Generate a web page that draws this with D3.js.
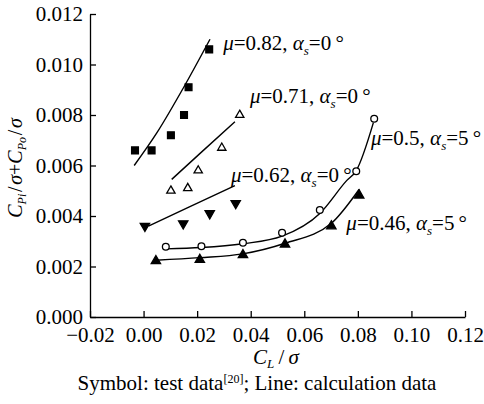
<!DOCTYPE html>
<html>
<head>
<meta charset="utf-8">
<script src="https://cdn.jsdelivr.net/npm/d3@7.9.0/dist/d3.min.js"></script>
<style>
  html, body { margin: 0; padding: 0; background: #fff; }
  svg { display: block; }
  svg text { font-family: 'Liberation Serif', serif; }
</style>
</head>
<body>
<svg id="chart"></svg>
<script>
// axis ticks
const xTicks = [-0.02, 0, 0.02, 0.04, 0.06, 0.08, 0.10, 0.12];
const yTicks = [0, 0.002, 0.004, 0.006, 0.008, 0.010, 0.012];

// test data (symbols)
const mu082TestX = [-0.0032, 0.0030, 0.0102, 0.0151, 0.0168, 0.0245];
const mu082TestY = [0.0066, 0.0066, 0.0072, 0.0080, 0.0091, 0.0106];
const mu071TestX = [0.0102, 0.0165, 0.0204, 0.0292, 0.0359];
const mu071TestY = [0.0050, 0.0051, 0.0058, 0.0067, 0.0080];
const mu062TestX = [0.0005, 0.0148, 0.0247, 0.0344];
const mu062TestY = [0.0036, 0.0037, 0.0041, 0.0045];
const mu05TestX = [0.0083, 0.0216, 0.0371, 0.0517, 0.0658, 0.0794, 0.0861];
const mu05TestY = [0.00278, 0.0028, 0.00294, 0.00334, 0.00424, 0.00577, 0.00785];
const mu046TestX = [0.0046, 0.0210, 0.0371, 0.0528, 0.0701, 0.0805];
const mu046TestY = [0.00222, 0.00227, 0.00246, 0.00288, 0.0036, 0.00482];

// calculation data (lines)
const mu082CalcX = [-0.0035, 0.005, 0.015, 0.0248];
const mu082CalcY = [0.0060, 0.0073, 0.0091, 0.0110];
const mu071CalcX = [0.0105, 0.0211, 0.0341];
const mu071CalcY = [0.00545, 0.00648, 0.00773];
const mu062CalcX = [0.0018, 0.0173, 0.0341];
const mu062CalcY = [0.0036, 0.00437, 0.0052];
const mu05CalcX = [0.0083, 0.0216, 0.0371, 0.0517, 0.0658, 0.0758, 0.0794, 0.0858];
const mu05CalcY = [0.0027, 0.00275, 0.0029, 0.0032, 0.0041, 0.0054, 0.0058, 0.0077];
const mu046CalcX = [0.0046, 0.021, 0.037, 0.0528, 0.0701, 0.0805];
const mu046CalcY = [0.00225, 0.00235, 0.0025, 0.00292, 0.00371, 0.00506];

// series labels (order: 0.82, 0.71, 0.62, 0.5, 0.46)
const seriesMu = ['0.82', '0.71', '0.62', '0.5', '0.46'];
const seriesAlpha = ['0', '0', '0', '5', '5'];
const labelX = [0.0297, 0.0397, 0.0326, 0.0849, 0.0757];
const labelY = [0.01057, 0.00848, 0.00535, 0.00681, 0.00345];

const zip = (xs, ys) => xs.map((x, i) => [x, ys[i]]);

const series = [
    { test: zip(mu082TestX, mu082TestY), calc: zip(mu082CalcX, mu082CalcY), symbol: 'square' },
    { test: zip(mu071TestX, mu071TestY), calc: zip(mu071CalcX, mu071CalcY), symbol: 'triOpen' },
    { test: zip(mu062TestX, mu062TestY), calc: zip(mu062CalcX, mu062CalcY), symbol: 'triDown' },
    { test: zip(mu05TestX, mu05TestY), calc: zip(mu05CalcX, mu05CalcY), symbol: 'circleOpen' },
    { test: zip(mu046TestX, mu046TestY), calc: zip(mu046CalcX, mu046CalcY), symbol: 'triUp' },
];

const width = 484;
const height = 404;
const margin = { top: 14, right: 19, bottom: 87, left: 90 };
const serif = "'Liberation Serif', serif";

const svg = d3.select('#chart')
    .attr('width', width)
    .attr('height', height)
    .attr('viewBox', [0, 0, width, height])
    .attr('font-family', serif);

const xScale = d3.scaleLinear()
    .domain([-0.02, 0.12])
    .range([margin.left, width - margin.right]);

const yScale = d3.scaleLinear()
    .domain([0, 0.012])
    .range([height - margin.bottom, margin.top]);

const fontSize = 21;

// axes, ticks pointing inward
const xAxis = svg.append('g')
    .attr('transform', `translate(0, ${yScale(0)})`)
    .call(d3.axisBottom(xScale)
        .tickValues(xTicks)
        .tickFormat(d3.format('.2f'))
        .tickSizeInner(-6)
        .tickSizeOuter(0)
        .tickPadding(10));

const yAxis = svg.append('g')
    .attr('transform', `translate(${xScale(-0.02)}, 0)`)
    .call(d3.axisLeft(yScale)
        .tickValues(yTicks)
        .tickFormat(d3.format('.3f'))
        .tickSizeInner(-6)
        .tickSizeOuter(0)
        .tickPadding(7));

[xAxis, yAxis].forEach((ax) => {
    ax.attr('font-family', serif).attr('font-size', fontSize);
    ax.selectAll('path, line').attr('stroke', '#000').attr('stroke-width', 1.3);
    ax.selectAll('text')
        .attr('fill', '#000')
        .attr('font-family', serif)
        .attr('font-size', fontSize);
});

// calculation lines
const line = d3.line()
    .x((d) => xScale(d[0]))
    .y((d) => yScale(d[1]))
    .curve(d3.curveMonotoneX);

svg.append('g')
    .selectAll('path')
    .data(series)
    .join('path')
    .attr('d', (d) => line(d.calc))
    .attr('fill', 'none')
    .attr('stroke', '#000')
    .attr('stroke-width', 1.4);

// test symbols
const symbolShape = {
    square: { type: d3.symbolSquare, size: 46, fill: '#000', rotate: 0 },
    triOpen: { type: d3.symbolTriangle, size: 30, fill: '#fff', rotate: 0 },
    triDown: { type: d3.symbolTriangle, size: 38, fill: '#000', rotate: 180 },
    circleOpen: { type: d3.symbolCircle, size: 36, fill: '#fff', rotate: 0 },
    triUp: { type: d3.symbolTriangle, size: 38, fill: '#000', rotate: 0 },
};

series.forEach((s) => {
    const shape = symbolShape[s.symbol];
    svg.append('g')
        .selectAll('path')
        .data(s.test)
        .join('path')
        .attr('d', d3.symbol().type(shape.type).size(shape.size))
        .attr('transform', (d) => `translate(${xScale(d[0])}, ${yScale(d[1])}) rotate(${shape.rotate})`)
        .attr('fill', shape.fill)
        .attr('stroke', '#000')
        .attr('stroke-width', 1.3);
});

// rich text helper: parts = [text, italic?, 'sub'|'sup'|null]
function richText(sel, parts, subSize, subDrop = 5) {
    let shift = 0;
    parts.forEach(([t, italic, pos]) => {
        const target = pos === 'sub' ? subDrop : pos === 'sup' ? -7 : 0;
        sel.append('tspan')
            .attr('dy', target - shift)
            .attr('font-style', italic ? 'italic' : 'normal')
            .attr('font-size', pos ? subSize : null)
            .text(t);
        shift = target;
    });
}

// series labels
seriesMu.forEach((mu, i) => {
    const t = svg.append('text')
        .attr('x', xScale(labelX[i]))
        .attr('y', yScale(labelY[i]))
        .attr('font-family', serif)
        .attr('font-size', fontSize);
    richText(t, [
        ['\u03bc', true, null],
        ['=' + mu + ', ', false, null],
        ['\u03b1', true, null],
        ['s', true, 'sub'],
        ['=' + seriesAlpha[i] + '\u2009\u00b0', false, null],
    ], 13);
});

// axis titles
const xTitle = svg.append('text')
    .attr('x', 276)
    .attr('y', 364)
    .attr('text-anchor', 'middle')
    .attr('font-family', serif)
    .attr('font-size', fontSize);
richText(xTitle, [['C', true, null], ['L', true, 'sub'], ['\u2009/\u2009', false, null], ['\u03c3', true, null]], 13, 4);

const yTitle = svg.append('text')
    .attr('transform', 'translate(22, 168) rotate(-90)')
    .attr('text-anchor', 'middle')
    .attr('font-family', serif)
    .attr('font-size', 20);
richText(yTitle, [
    ['C', true, null], ['Pi', true, 'sub'], ['\u200a/\u200a', false, null], ['\u03c3', true, null],
    ['+', false, null],
    ['C', true, null], ['Po', true, 'sub'], ['\u200a/\u200a', false, null], ['\u03c3', true, null],
], 12, 4);

// caption
const caption = svg.append('text')
    .attr('x', 257)
    .attr('y', 390)
    .attr('text-anchor', 'middle')
    .attr('font-family', serif)
    .attr('font-size', 21);
richText(caption, [
    ['Symbol: test data', false, null],
    ['[20]', false, 'sup'],
    ['; Line: calculation data', false, null],
], 12);
</script>
</body>
</html>
